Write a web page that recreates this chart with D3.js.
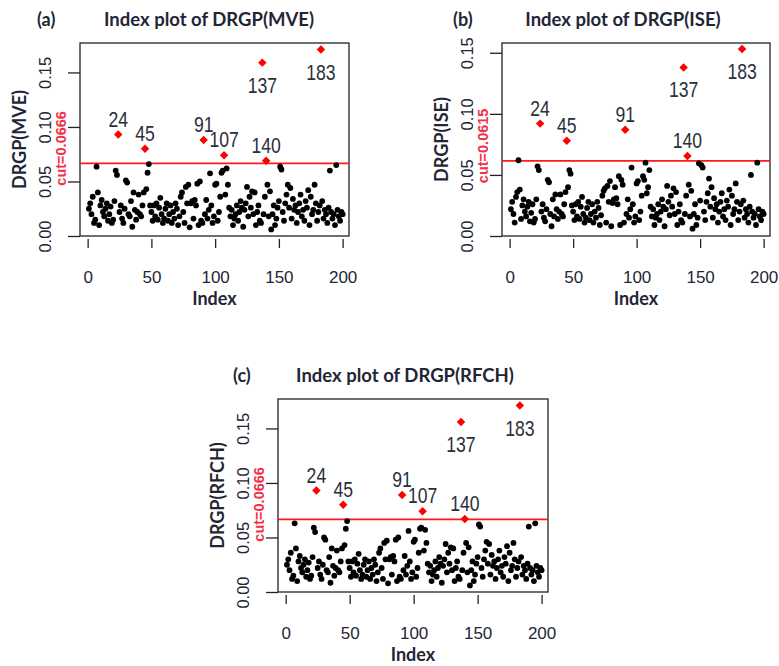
<!DOCTYPE html>
<html>
<head>
<meta charset="utf-8">
<title>Index plots of DRGP</title>
<style>
  body { margin: 0; background: #fff; }
  svg { display: block; }
</style>
</head>
<body>
<script src="https://cdn.jsdelivr.net/npm/d3@7"></script>
<script>
// DRGP values, index 1..200
var mveValues = [
  0.025, 0.030, 0.020, 0.036, 0.012, 0.015, 0.0636, 0.040, 0.010, 0.028,
  0.033, 0.022, 0.018, 0.025, 0.030, 0.014, 0.020, 0.027, 0.012, 0.015,
  0.032, 0.060, 0.056, 0.093, 0.022, 0.028, 0.016, 0.012, 0.025, 0.051,
  0.049, 0.020, 0.018, 0.032, 0.0085, 0.040, 0.024, 0.015, 0.022, 0.038,
  0.020, 0.018, 0.028, 0.040, 0.080, 0.043, 0.058, 0.066, 0.028, 0.022,
  0.014, 0.028, 0.018, 0.030, 0.015, 0.026, 0.035, 0.020, 0.012, 0.016,
  0.025, 0.030, 0.014, 0.020, 0.028, 0.012, 0.022, 0.016, 0.030, 0.025,
  0.010, 0.018, 0.036, 0.040, 0.022, 0.012, 0.045, 0.030, 0.047, 0.008,
  0.030, 0.032, 0.016, 0.033, 0.028, 0.048, 0.010, 0.050, 0.014, 0.012,
  0.088, 0.020, 0.033, 0.016, 0.024, 0.0575, 0.028, 0.012, 0.018, 0.047,
  0.048, 0.014, 0.022, 0.036, 0.058, 0.060, 0.074, 0.038, 0.062, 0.047,
  0.026, 0.018, 0.024, 0.010, 0.016, 0.020, 0.028, 0.014, 0.022, 0.032,
  0.026, 0.0085, 0.024, 0.030, 0.045, 0.018, 0.036, 0.026, 0.041, 0.020,
  0.040, 0.010, 0.022, 0.028, 0.014, 0.012, 0.159, 0.020, 0.036, 0.069,
  0.047, 0.018, 0.041, 0.006, 0.020, 0.028, 0.010, 0.016, 0.026, 0.032,
  0.0636, 0.061, 0.022, 0.014, 0.030, 0.038, 0.047, 0.026, 0.044, 0.016,
  0.034, 0.024, 0.028, 0.012, 0.022, 0.030, 0.038, 0.018, 0.024, 0.014,
  0.032, 0.026, 0.042, 0.010, 0.036, 0.020, 0.024, 0.047, 0.030, 0.014,
  0.022, 0.028, 0.171, 0.032, 0.016, 0.024, 0.020, 0.012, 0.026, 0.060,
  0.022, 0.016, 0.020, 0.010, 0.065, 0.024, 0.018, 0.014, 0.022, 0.020
];

var iseValues = [
  0.022, 0.028, 0.018, 0.011, 0.032, 0.036, 0.062, 0.038, 0.014, 0.025,
  0.030, 0.020, 0.016, 0.024, 0.028, 0.012, 0.019, 0.026, 0.011, 0.014,
  0.030, 0.057, 0.054, 0.092, 0.020, 0.026, 0.015, 0.012, 0.022, 0.046,
  0.044, 0.018, 0.008, 0.030, 0.016, 0.034, 0.022, 0.014, 0.020, 0.034,
  0.018, 0.016, 0.026, 0.036, 0.078, 0.040, 0.054, 0.051, 0.025, 0.020,
  0.013, 0.026, 0.016, 0.028, 0.014, 0.024, 0.032, 0.018, 0.011, 0.015,
  0.023, 0.028, 0.013, 0.018, 0.026, 0.011, 0.020, 0.015, 0.028, 0.023,
  0.009, 0.017, 0.033, 0.037, 0.039, 0.011, 0.041, 0.028, 0.045, 0.008,
  0.027, 0.030, 0.040, 0.031, 0.026, 0.049, 0.009, 0.046, 0.042, 0.011,
  0.087, 0.018, 0.030, 0.015, 0.022, 0.056, 0.026, 0.011, 0.016, 0.043,
  0.045, 0.013, 0.020, 0.033, 0.049, 0.046, 0.060, 0.035, 0.040, 0.054,
  0.024, 0.016, 0.022, 0.009, 0.015, 0.018, 0.026, 0.013, 0.020, 0.030,
  0.024, 0.008, 0.022, 0.041, 0.028, 0.017, 0.033, 0.024, 0.039, 0.018,
  0.036, 0.009, 0.020, 0.026, 0.013, 0.011, 0.138, 0.018, 0.033, 0.0655,
  0.042, 0.016, 0.037, 0.006, 0.018, 0.026, 0.009, 0.015, 0.0595, 0.029,
  0.058, 0.056, 0.020, 0.013, 0.028, 0.035, 0.047, 0.024, 0.040, 0.015,
  0.031, 0.022, 0.026, 0.011, 0.020, 0.028, 0.035, 0.016, 0.022, 0.013,
  0.029, 0.024, 0.038, 0.009, 0.033, 0.018, 0.022, 0.043, 0.028, 0.013,
  0.020, 0.026, 0.153, 0.029, 0.015, 0.022, 0.018, 0.011, 0.024, 0.050,
  0.020, 0.015, 0.018, 0.009, 0.060, 0.022, 0.016, 0.013, 0.020, 0.018
];

var rfchValues = [
  0.025, 0.030, 0.020, 0.036, 0.012, 0.015, 0.0630, 0.040, 0.010, 0.028,
  0.033, 0.022, 0.018, 0.025, 0.030, 0.014, 0.020, 0.027, 0.012, 0.015,
  0.032, 0.059, 0.055, 0.093, 0.022, 0.028, 0.016, 0.012, 0.025, 0.050,
  0.048, 0.020, 0.018, 0.032, 0.0085, 0.040, 0.024, 0.015, 0.022, 0.038,
  0.020, 0.018, 0.028, 0.040, 0.080, 0.043, 0.058, 0.065, 0.028, 0.022,
  0.014, 0.028, 0.018, 0.030, 0.015, 0.026, 0.035, 0.020, 0.012, 0.016,
  0.025, 0.030, 0.014, 0.020, 0.028, 0.012, 0.022, 0.016, 0.030, 0.025,
  0.010, 0.018, 0.036, 0.040, 0.022, 0.012, 0.045, 0.030, 0.047, 0.008,
  0.030, 0.032, 0.016, 0.033, 0.028, 0.048, 0.010, 0.050, 0.014, 0.012,
  0.089, 0.020, 0.033, 0.016, 0.024, 0.0560, 0.028, 0.012, 0.018, 0.046,
  0.048, 0.014, 0.022, 0.036, 0.058, 0.059, 0.074, 0.038, 0.057, 0.045,
  0.026, 0.018, 0.024, 0.010, 0.016, 0.020, 0.028, 0.014, 0.022, 0.032,
  0.026, 0.0085, 0.024, 0.030, 0.044, 0.018, 0.036, 0.026, 0.041, 0.020,
  0.040, 0.010, 0.022, 0.028, 0.014, 0.012, 0.156, 0.020, 0.036, 0.067,
  0.045, 0.018, 0.041, 0.006, 0.020, 0.028, 0.010, 0.016, 0.026, 0.032,
  0.0620, 0.060, 0.022, 0.014, 0.030, 0.038, 0.046, 0.026, 0.044, 0.016,
  0.034, 0.024, 0.028, 0.012, 0.022, 0.030, 0.038, 0.018, 0.024, 0.014,
  0.032, 0.026, 0.042, 0.010, 0.036, 0.020, 0.024, 0.045, 0.030, 0.014,
  0.022, 0.028, 0.171, 0.032, 0.016, 0.024, 0.020, 0.012, 0.026, 0.060,
  0.022, 0.016, 0.020, 0.010, 0.063, 0.024, 0.018, 0.014, 0.022, 0.020
];

var mveCut = 0.0666;
var iseCut = 0.0615;
var rfchCut = 0.0666;

var mveOutliers = [24, 45, 91, 107, 137, 140, 183];
var iseOutliers = [24, 45, 91, 137, 140, 183];
var rfchOutliers = [24, 45, 91, 107, 137, 140, 183];
var labelBelow = [137, 183];

var xTicks = [0, 50, 100, 150, 200];
var yTicks = [0, 0.05, 0.10, 0.15];

var W = 779, H = 666;
var numFont = "'Liberation Sans', Arial, sans-serif";
var boldFont = "Lato, 'Open Sans', sans-serif";
var ink = "#1f2636";

var svg = d3.select("body").append("svg")
  .attr("width", W)
  .attr("height", H);

svg.append("rect").attr("width", W).attr("height", H).attr("fill", "#fff");

function drawPanel(p) {
  var x = d3.scaleLinear().domain([-6, 205]).range([p.left, p.right]);
  var y = d3.scaleLinear().domain([0, p.yMax]).range([p.bottom, p.top]);
  var g = svg.append("g");

  // y axis, labels turned parallel to the axis like R does
  var ya = g.append("g")
    .attr("transform", "translate(" + p.left + ",0)")
    .call(d3.axisLeft(y).tickValues(yTicks).tickSize(12).tickFormat(d3.format(".2f")));
  ya.select(".domain").remove();
  ya.selectAll("line").attr("stroke", "#222").attr("stroke-width", 1.3);
  ya.selectAll("text")
    .attr("x", 0)
    .attr("dy", "0.36em")
    .attr("transform", "translate(-35,0) rotate(-90)")
    .attr("text-anchor", "middle")
    .attr("font-family", numFont)
    .attr("font-size", 16.5)
    .attr("fill", ink);

  // x axis, ticks hang a little under the box
  var xa = g.append("g")
    .attr("transform", "translate(0," + (p.bottom + 3) + ")")
    .call(d3.axisBottom(x).tickValues(xTicks).tickSize(9));
  xa.select(".domain").remove();
  xa.selectAll("line").attr("stroke", "#222").attr("stroke-width", 1.3);
  xa.selectAll("text")
    .attr("y", 38)
    .attr("dy", "0.36em")
    .attr("font-family", numFont)
    .attr("font-size", 17)
    .attr("fill", ink);

  g.append("rect")
    .attr("x", p.left)
    .attr("y", p.top)
    .attr("width", p.right - p.left)
    .attr("height", p.bottom - p.top)
    .attr("fill", "none")
    .attr("stroke", "#222")
    .attr("stroke-width", 1.3);

  // cut line
  g.append("line")
    .attr("x1", p.left).attr("x2", p.right)
    .attr("y1", y(p.cut)).attr("y2", y(p.cut))
    .attr("stroke", "#ff1a1a")
    .attr("stroke-width", 1.6);

  var pts = p.values.map(function (v, i) { return { idx: i + 1, v: v }; });
  var normal = pts.filter(function (d) { return p.outliers.indexOf(d.idx) < 0; });
  var flagged = pts.filter(function (d) { return p.outliers.indexOf(d.idx) >= 0; });

  g.selectAll("circle.pt")
    .data(normal)
    .enter()
    .append("circle")
    .attr("class", "pt")
    .attr("cx", function (d) { return x(d.idx); })
    .attr("cy", function (d) { return y(d.v); })
    .attr("r", 2.9)
    .attr("fill", "#000");

  var diamond = d3.symbol().type(d3.symbolSquare).size(36);
  g.selectAll("path.out")
    .data(flagged)
    .enter()
    .append("path")
    .attr("class", "out")
    .attr("d", diamond)
    .attr("transform", function (d) {
      return "translate(" + x(d.idx) + "," + y(d.v) + ") rotate(45)";
    })
    .attr("fill", "#ff0000");

  // index labels for the flagged points
  g.selectAll("text.lab")
    .data(flagged)
    .enter()
    .append("text")
    .attr("class", "lab")
    .attr("transform", function (d) {
      var below = labelBelow.indexOf(d.idx) >= 0;
      var ty = below ? y(d.v) + 30 : y(d.v) - 8;
      return "translate(" + x(d.idx) + "," + ty + ") scale(0.8,1)";
    })
    .attr("text-anchor", "middle")
    .attr("font-family", numFont)
    .attr("font-size", 22)
    .attr("fill", "#2a2f3a")
    .text(function (d) { return d.idx; });

  // titles
  g.append("text")
    .attr("x", p.titleX)
    .attr("y", p.top - 23)
    .attr("dy", "0.35em")
    .attr("text-anchor", "middle")
    .attr("font-family", boldFont)
    .attr("font-weight", "bold")
    .attr("font-size", 18.5)
    .attr("fill", ink)
    .text(p.title);

  g.append("text")
    .attr("x", p.left - p.tagGap)
    .attr("y", p.top - 23)
    .attr("dy", "0.35em")
    .attr("font-family", boldFont)
    .attr("font-weight", "bold")
    .attr("font-size", 18)
    .attr("fill", ink)
    .text(p.tag);

  g.append("text")
    .attr("transform", "translate(" + (p.left - 60) + "," + ((p.top + p.bottom) / 2) + ") rotate(-90)")
    .attr("dy", "0.35em")
    .attr("text-anchor", "middle")
    .attr("font-family", boldFont)
    .attr("font-weight", "bold")
    .attr("font-size", 18)
    .attr("fill", ink)
    .text(p.ylab);

  g.append("text")
    .attr("transform", "translate(" + (p.left - 19) + "," + (y(p.cut) - 15) + ") rotate(-90)")
    .attr("dy", "0.35em")
    .attr("text-anchor", "middle")
    .attr("font-family", numFont)
    .attr("font-weight", "bold")
    .attr("font-size", 14.5)
    .attr("fill", "#f2304a")
    .text("cut=" + p.cutLabel);

  g.append("text")
    .attr("x", (p.left + p.right) / 2)
    .attr("y", p.bottom + 63)
    .attr("dy", "0.35em")
    .attr("text-anchor", "middle")
    .attr("font-family", boldFont)
    .attr("font-weight", "bold")
    .attr("font-size", 18)
    .attr("fill", ink)
    .text("Index");
}

drawPanel({
  left: 80, right: 349, top: 43, bottom: 236, yMax: 0.177,
  values: mveValues, outliers: mveOutliers, cut: mveCut, cutLabel: "0.0666",
  title: "Index plot of DRGP(MVE)", titleX: 209, tag: "(a)", tagGap: 43, ylab: "DRGP(MVE)"
});

drawPanel({
  left: 502, right: 770, top: 43, bottom: 236, yMax: 0.158,
  values: iseValues, outliers: iseOutliers, cut: iseCut, cutLabel: "0.0615",
  title: "Index plot of DRGP(ISE)", titleX: 623, tag: "(b)", tagGap: 49, ylab: "DRGP(ISE)"
});

drawPanel({
  left: 278, right: 548, top: 399, bottom: 592, yMax: 0.177,
  values: rfchValues, outliers: rfchOutliers, cut: rfchCut, cutLabel: "0.0666",
  title: "Index plot of DRGP(RFCH)", titleX: 405, tag: "(c)", tagGap: 45, ylab: "DRGP(RFCH)"
});
</script>
</body>
</html>
